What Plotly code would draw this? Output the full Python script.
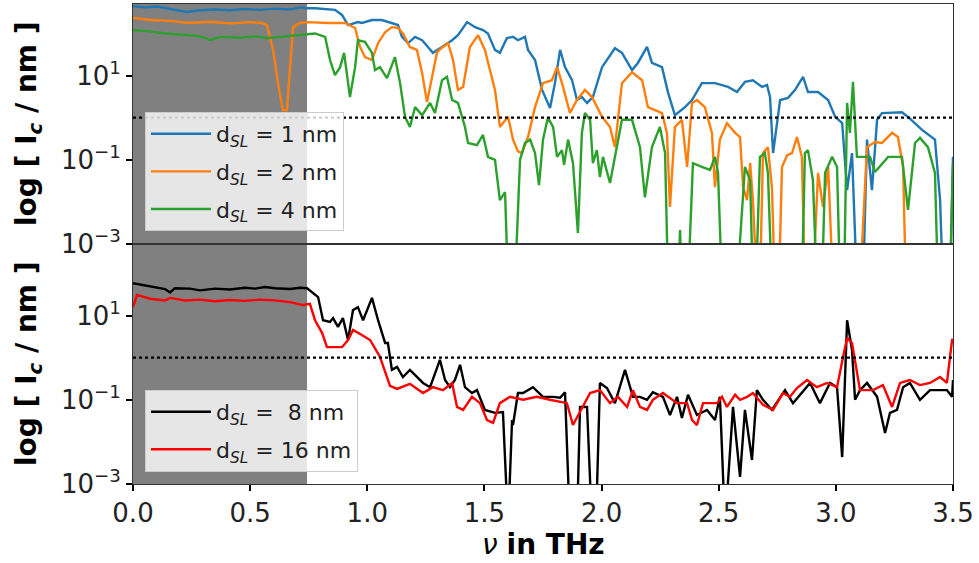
import plotly.graph_objects as go
from plotly.subplots import make_subplots

# ---------------- data (frequency in THz, log10 of I_c in nm) ----------------
nu_d1 = [0, 0.051, 0.102, 0.158, 0.230, 0.286, 0.350, 0.414, 0.478, 0.542, 0.606, 0.670, 0.713, 0.743, 0.777,
         0.862, 0.892, 0.918, 0.960, 0.977, 1.020, 1.062, 1.105, 1.131, 1.148, 1.174, 1.204, 1.234, 1.259, 1.280,
         1.319, 1.362, 1.387, 1.426, 1.460, 1.494, 1.515, 1.545, 1.566, 1.596, 1.622, 1.643, 1.673, 1.686, 1.716,
         1.746, 1.780, 1.801, 1.823, 1.844, 1.874, 1.895, 1.916, 1.938, 1.963, 2.002, 2.057, 2.087, 2.130, 2.155,
         2.194, 2.215, 2.258, 2.284, 2.313, 2.356, 2.386, 2.428, 2.484, 2.540, 2.578, 2.612, 2.646, 2.685, 2.706,
         2.719, 2.732, 2.762, 2.796, 2.826, 2.860, 2.881, 2.924, 2.967, 2.997, 3.027, 3.048, 3.069, 3.090, 3.116,
         3.133, 3.154, 3.176, 3.197, 3.282, 3.308, 3.368, 3.423, 3.445, 3.457, 3.487, 3.5]
logI_d1 = [2.65, 2.62, 2.64, 2.58, 2.51, 2.55, 2.57, 2.55, 2.58, 2.56, 2.59, 2.57, 2.62, 2.60, 2.60,
           2.56, 2.44, 2.20, 2.27, 2.25, 2.32, 2.32, 2.25, 2.20, 1.92, 1.77, 1.92, 1.84, 1.68, 1.54,
           1.68, 1.84, 1.96, 2.27, 2.15, 2.08, 2.00, 1.61, 1.54, 1.89, 1.92, 1.84, 1.92, 1.61, 1.37,
           0.66, 0.23, 0.82, 1.61, 1.20, 0.89, 0.42, 0.49, 0.35, 0.49, 1.20, 1.65, 1.54, 1.13, 1.30,
           1.68, 1.30, 1.20, 0.59, 0.06, 0.25, 0.42, 0.82, 0.82, 0.73, 0.61, 0.85, 0.89, 0.73, 0.78,
           0.49, -0.84, 0.42, 0.47, 0.66, 0.97, 0.61, 0.61, 0.42, 0.02, -0.13, -1.72, -0.84, -4, -4,
           -0.52, -1.72, -0.05, 0.11, 0.13, 0.02, -0.29, -0.52, -1.96, -4, -4, -0.93]

nu_d2 = [0, 0.073, 0.158, 0.243, 0.329, 0.414, 0.499, 0.551, 0.572, 0.598, 0.619, 0.640, 0.657, 0.670, 0.683,
         0.713, 0.747, 0.832, 0.905, 0.948, 0.969, 0.990, 1.020, 1.046, 1.076, 1.105, 1.131, 1.152, 1.182, 1.212,
         1.234, 1.255, 1.276, 1.298, 1.323, 1.345, 1.366, 1.387, 1.409, 1.438, 1.473, 1.502, 1.545, 1.566, 1.601,
         1.622, 1.643, 1.660, 1.686, 1.716, 1.750, 1.788, 1.810, 1.831, 1.865, 1.895, 1.929, 1.959, 2.002, 2.036,
         2.057, 2.087, 2.130, 2.173, 2.198, 2.228, 2.258, 2.279, 2.292, 2.313, 2.343, 2.365, 2.386, 2.407, 2.441,
         2.471, 2.484, 2.505, 2.535, 2.570, 2.591, 2.604, 2.621, 2.634, 2.646, 2.663, 2.676, 2.689, 2.710, 2.727,
         2.740, 2.757, 2.770, 2.792, 2.813, 2.834, 2.855, 2.868, 2.902, 2.924, 2.945, 2.967, 2.988, 3.103, 3.133,
         3.167, 3.197, 3.240, 3.265, 3.287, 3.299, 3.5]
logI_d2 = [2.37, 2.32, 2.30, 2.25, 2.28, 2.24, 2.27, 2.25, 2.20, 1.61, 0.82, 0.18, 0.18, 1.20, 2.15,
           2.25, 2.27, 2.25, 2.25, 2.13, 1.68, 1.44, 1.37, 1.77, 2.03, 2.15, 2.13, 2.00, 1.68, 1.61,
           1.06, 0.37, 0.97, 1.56, 1.68, 1.77, 1.37, 0.66, 0.73, 1.68, 1.96, 1.61, 0.66, -0.22, 0.02,
           -0.52, -0.80, -0.84, -0.46, 0.25, 0.82, 0.89, 1.20, 0.82, 0.11, 0.42, 0.66, 0.49, 0.02, -0.22,
           -0.70, 0.82, 1.08, 0.89, 0.25, 0.18, 0.11, -0.36, -2.12, -0.22, -0.05, -1.17, 0.35, 0.42, 0.25,
           -0.36, -1.65, -0.52, -0.13, -0.36, -0.46, -1.65, -1.96, -1.08, -1.96, -4, -4, -0.84, -0.70, -1.65,
           -4, -4, -1.17, -0.89, -0.84, -0.46, -0.93, -4, -4, -1.31, -2.12, -1.17, -4, -4, -0.70,
           -0.58, -0.60, -0.36, -0.46, -1.17, -4, -4]

nu_d4 = [0, 0.073, 0.137, 0.201, 0.265, 0.307, 0.329, 0.371, 0.457, 0.521, 0.572, 0.627, 0.691, 0.777, 0.820,
         0.841, 0.862, 0.884, 0.901, 0.926, 0.948, 0.960, 0.990, 1.020, 1.033, 1.054, 1.084, 1.118, 1.140, 1.161,
         1.182, 1.204, 1.234, 1.268, 1.289, 1.319, 1.340, 1.362, 1.387, 1.417, 1.430, 1.468, 1.494, 1.515, 1.545,
         1.566, 1.588, 1.601, 1.630, 1.652, 1.673, 1.695, 1.716, 1.733, 1.750, 1.771, 1.793, 1.810, 1.831, 1.840,
         1.857, 1.878, 1.899, 1.916, 1.929, 1.951, 1.963, 1.980, 1.993, 2.006, 2.036, 2.057, 2.087, 2.130, 2.164,
         2.185, 2.215, 2.249, 2.271, 2.284, 2.326, 2.335, 2.343, 2.369, 2.390, 2.428, 2.463, 2.484, 2.497, 2.514,
         2.578, 2.612, 2.634, 2.646, 2.659, 2.676, 2.697, 2.710, 2.727, 2.855, 2.868, 2.881, 2.902, 2.919, 2.941,
         2.954, 2.984, 3.005, 3.018, 3.035, 3.048, 3.060, 3.073, 3.090, 3.112, 3.146, 3.167, 3.223, 3.282, 3.308,
         3.338, 3.359, 3.393, 3.423, 3.436, 3.487, 3.5]
logI_d4 = [2.08, 2.05, 2.00, 1.98, 1.95, 1.90, 1.84, 1.92, 1.90, 1.93, 1.89, 1.92, 1.96, 2.00, 1.92,
           1.37, 1.01, 1.20, 1.54, 0.49, 1.20, 1.84, 1.80, 1.54, 1.13, 1.20, 0.94, 1.44, 0.82, 0.02,
           -0.22, 0.25, 0.06, 0.35, 0.11, 0.89, 0.97, 0.42, 0.35, -0.22, -0.60, -0.65, -0.41, -0.93, -1.00,
           -1.96, -1.77, -4, -4, -1.00, -0.60, -0.52, -0.84, -1.60, -0.52, 0.00, -0.22, -0.93, -0.77, -1.12,
           -0.52, -1.08, -2.74, -0.36, 0.11, -0.05, -1.08, -0.77, -1.41, -0.93, -1.55, -0.93, -0.05, -0.05, -0.70,
           -1.89, -0.70, -0.22, -0.84, -4, -4, -2.67, -4, -4, -1.08, -1.17, -1.24, -0.93, -1.30, -4,
           -4, -1.17, -1.48, -4, -4, -0.93, -0.84, -1.31, -4, -4, -0.84, -0.77, -1.48, -4, -4,
           -1.31, -0.93, -1.17, -4, -4, 0.35, -0.36, 0.85, -0.93, -0.93, -0.93, -1.29, -0.93, -0.93, -2.19,
           -0.60, -0.48, -0.70, -1.31, -4, -4, -1.10]

nu_d8 = [0, 0.051, 0.102, 0.137, 0.158, 0.179, 0.243, 0.286, 0.350, 0.414, 0.478, 0.521, 0.563, 0.606, 0.670,
         0.713, 0.743, 0.764, 0.790, 0.811, 0.841, 0.854, 0.875, 0.896, 0.918, 0.939, 0.960, 0.982, 1.020, 1.046,
         1.076, 1.088, 1.105, 1.127, 1.152, 1.182, 1.212, 1.238, 1.268, 1.298, 1.310, 1.332, 1.353, 1.374, 1.396,
         1.417, 1.447, 1.468, 1.502, 1.545, 1.579, 1.601, 1.618, 1.622, 1.643, 1.665, 1.707, 1.750, 1.793, 1.823,
         1.844, 1.865, 1.895, 1.908, 1.938, 1.959, 1.976, 1.993, 2.023, 2.057, 2.100, 2.134, 2.164, 2.194, 2.219,
         2.262, 2.292, 2.322, 2.343, 2.369, 2.407, 2.450, 2.484, 2.505, 2.527, 2.561, 2.591, 2.612, 2.642, 2.663,
         2.689, 2.727, 2.762, 2.783, 2.817, 2.855, 2.890, 2.932, 2.975, 3.005, 3.027, 3.048, 3.069, 3.082, 3.103,
         3.133, 3.176, 3.210, 3.231, 3.261, 3.287, 3.316, 3.359, 3.402, 3.474, 3.496, 3.5]
logI_d8 = [1.77, 1.72, 1.66, 1.63, 1.55, 1.65, 1.64, 1.60, 1.64, 1.62, 1.66, 1.64, 1.68, 1.65, 1.63,
           1.66, 1.65, 1.56, 1.44, 0.89, 0.85, 0.94, 0.73, 0.94, 0.42, 1.13, 1.20, 0.89, 1.42, 0.89,
           0.35, 0.35, -0.29, -0.22, -0.46, -0.29, -0.46, -0.60, -0.70, -0.22, -0.05, -0.53, -0.70, -0.53, -0.17,
           -0.70, -0.84, -0.77, -1.24, -1.31, -1.29, -4, -1.48, -1.60, -0.84, -0.84, -0.70, -0.93, -0.93, -0.95,
           -0.82, -4, -4, -1.17, -1.17, -4, -4, -0.60, -0.72, -1.08, -0.29, -0.93, -0.93, -1.00, -0.82,
           -0.93, -1.36, -0.93, -1.43, -0.88, -1.36, -1.24, -1.48, -0.93, -4, -1.17, -2.83, -1.24, -2.43, -0.77,
           -1.00, -1.24, -0.93, -0.77, -1.08, -0.84, -0.60, -1.08, -0.60, -0.70, -2.36, 0.89, 0.18, -1.00, -0.77,
           -0.60, -0.93, -1.79, -1.31, -1.24, -0.70, -0.60, -1.00, -0.77, -0.77, -0.93, -0.53]

nu_d16 = [0, 0.017, 0.073, 0.137, 0.158, 0.222, 0.286, 0.350, 0.414, 0.478, 0.542, 0.606, 0.670, 0.726, 0.755,
          0.777, 0.807, 0.828, 0.854, 0.892, 0.918, 0.939, 0.977, 1.012, 1.054, 1.097, 1.127, 1.182, 1.238, 1.280,
          1.323, 1.362, 1.383, 1.409, 1.447, 1.481, 1.511, 1.537, 1.566, 1.609, 1.665, 1.724, 1.780, 1.852, 1.878,
          1.921, 1.951, 1.993, 2.036, 2.070, 2.109, 2.134, 2.164, 2.194, 2.219, 2.262, 2.322, 2.365, 2.386, 2.407,
          2.433, 2.493, 2.514, 2.535, 2.570, 2.591, 2.621, 2.646, 2.689, 2.732, 2.774, 2.804, 2.834, 2.877, 2.919,
          2.962, 3.005, 3.031, 3.048, 3.069, 3.090, 3.103, 3.159, 3.201, 3.240, 3.274, 3.316, 3.359, 3.402, 3.445,
          3.474, 3.496, 3.5]
logI_d16 = [1.20, 1.49, 1.40, 1.36, 1.42, 1.36, 1.38, 1.34, 1.37, 1.35, 1.38, 1.36, 1.32, 1.25, 1.28,
            0.89, 0.59, 0.25, 0.25, 0.25, 0.42, 0.66, 0.54, 0.42, 0.02, -0.67, -0.74, -0.62, -0.84, -0.70,
            -0.77, -0.60, -1.17, -1.24, -0.93, -1.08, -1.48, -1.55, -1.08, -0.93, -1.00, -0.93, -1.00, -1.08, -1.60,
            -1.17, -0.84, -0.77, -1.08, -0.93, -1.17, -0.77, -1.17, -1.24, -1.00, -0.84, -1.08, -1.08, -1.48, -1.60,
            -1.08, -1.08, -0.93, -1.17, -0.88, -1.00, -0.93, -0.84, -1.12, -1.24, -0.84, -0.93, -0.72, -0.53, -0.70,
            -0.60, -0.70, 0.02, 0.47, 0.35, -0.29, -0.77, -0.77, -0.65, -1.17, -0.60, -0.53, -0.65, -0.60, -0.46,
            -0.60, 0.42, 0.42]

labels_top = ["d<sub><i>SL</i></sub> = 1 nm", "d<sub><i>SL</i></sub> = 2 nm", "d<sub><i>SL</i></sub> = 4 nm"]
labels_bot = ["d<sub><i>SL</i></sub> = \u00a08 nm", "d<sub><i>SL</i></sub> = 16 nm"]
x_ticks = [0.0, 0.5, 1.0, 1.5, 2.0, 2.5, 3.0, 3.5]
y_ticks = [1e-3, 1e-1, 1e1]
y_ticktext = ["10<sup>\u22123</sup>", "10<sup>\u22121</sup>", "10<sup>1</sup>"]
threshold = 1.0          # dotted reference level
shade_end = 0.743        # end of shaded band (THz)
nu_range = [0.0, 3.5]

FONT = "DejaVu Sans"
LW = 2.4

fig = make_subplots(rows=2, cols=1, shared_xaxes=True, vertical_spacing=0)

def lin(v):
    return [10 ** a for a in v]

top_series = [(nu_d1, logI_d1, "#1f77b4"), (nu_d2, logI_d2, "#ff7f0e"), (nu_d4, logI_d4, "#2ca02c")]
for i, (nu, lg, col) in enumerate(top_series):
    fig.add_trace(go.Scatter(x=nu, y=lin(lg), mode="lines", name=labels_top[i],
                             line=dict(color=col, width=LW), legend="legend",
                             legendgroup="t%d" % i), row=1, col=1)

bot_series = [(nu_d8, logI_d8, "black"), (nu_d16, logI_d16, "red")]
for i, (nu, lg, col) in enumerate(bot_series):
    fig.add_trace(go.Scatter(x=nu, y=lin(lg), mode="lines", name=labels_bot[i],
                             line=dict(color=col, width=LW), legend="legend2",
                             legendgroup="b%d" % i), row=2, col=1)

for r in (1, 2):
    fig.add_trace(go.Scatter(x=nu_range, y=[threshold, threshold], mode="lines",
                             line=dict(color="black", width=2.2, dash="dot"),
                             showlegend=False, hoverinfo="skip"), row=r, col=1)

# shaded band
for xr, yr in (("x", "y domain"), ("x2", "y2 domain")):
    fig.add_shape(type="rect", xref=xr, yref=yr, x0=0, x1=shade_end, y0=0, y1=1,
                  fillcolor="rgb(128,128,128)", line=dict(width=0), layer="below")

axis_common = dict(showline=True, linecolor="#333", linewidth=1, mirror=True,
                   showgrid=False, zeroline=False)

fig.update_xaxes(range=nu_range, **axis_common)
fig.update_xaxes(showticklabels=False, ticks="", row=1, col=1)
fig.update_xaxes(tickvals=x_ticks, ticktext=["%.1f" % t for t in x_ticks], ticks="outside",
                 ticklen=6, tickwidth=2, tickcolor="black",
                 tickfont=dict(family=FONT, size=26, color="#222"), row=2, col=1)
fig.update_yaxes(type="log", range=[-3, 2.7], tickvals=y_ticks, ticktext=y_ticktext,
                 ticks="outside", ticklen=6, tickwidth=2, tickcolor="black",
                 tickfont=dict(family=FONT, size=26, color="#222"), **axis_common)

legend_common = dict(bgcolor="rgba(255,255,255,0.8)", bordercolor="#cccccc", borderwidth=1,
                     font=dict(family=FONT, size=22, color="#222"), xanchor="left", yanchor="top",
                     tracegroupgap=6, itemwidth=60)

fig.update_layout(
    width=979, height=563,
    margin=dict(l=133, r=26, t=4, b=79),
    plot_bgcolor="white", paper_bgcolor="white",
    font=dict(family=FONT, color="#222"),
    legend=dict(x=0.0146, y=0.775, **legend_common),
    legend2=dict(x=0.0146, y=0.196, **legend_common),
    annotations=[
        dict(text="<b>log [ I<sub><i>c</i></sub> / nm ]</b>", xref="paper", yref="y domain",
             x=-0.128, y=0.5, xanchor="center", yanchor="middle", textangle=-90, showarrow=False,
             font=dict(family=FONT, size=28, color="black")),
        dict(text="<b>log [ I<sub><i>c</i></sub> / nm ]</b>", xref="paper", yref="y2 domain",
             x=-0.128, y=0.5, xanchor="center", yanchor="middle", textangle=-90, showarrow=False,
             font=dict(family=FONT, size=28, color="black")),
        dict(text="<i>\u03bd</i> <b>in THz</b>", xref="paper", yref="paper",
             x=0.5, y=-0.125, xanchor="center", yanchor="middle", showarrow=False,
             font=dict(family=FONT, size=28, color="black")),
    ],
)

fig.write_html("out.html")
